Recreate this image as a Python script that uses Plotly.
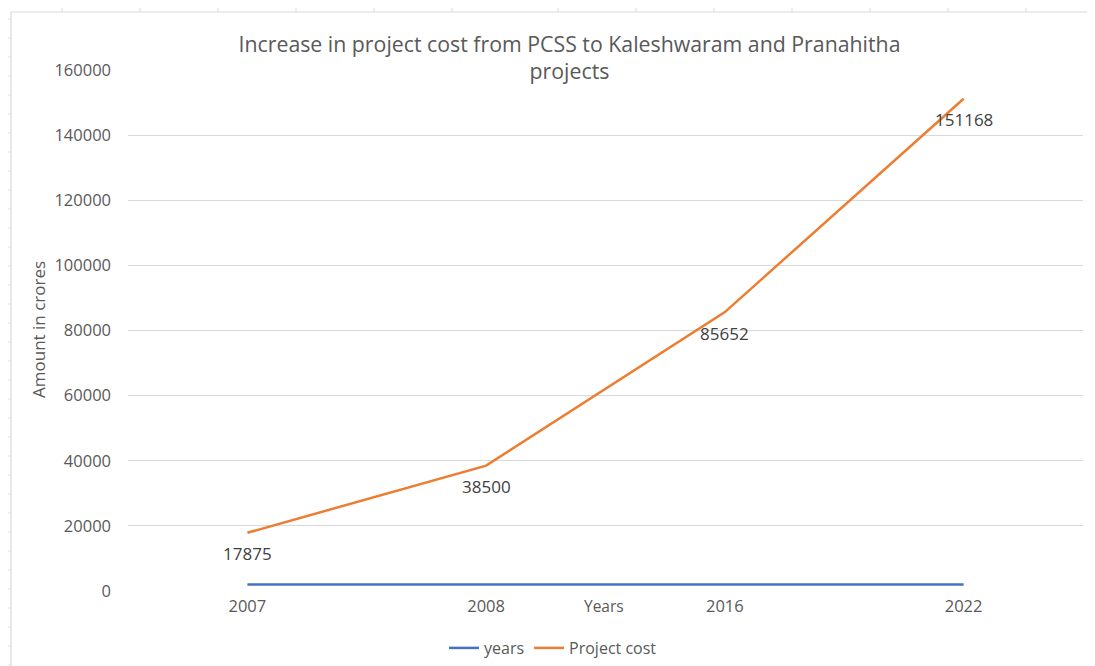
import plotly.graph_objects as go

# ── data ──────────────────────────────────────────────────────────────
years = ["2007", "2008", "2016", "2022"]
years_values = [2007, 2008, 2016, 2022]
project_cost = [17875, 38500, 85652, 151168]
y_ticks = [0, 20000, 40000, 60000, 80000, 100000, 120000, 140000, 160000]

# ── canvas geometry (page pixels; the html body adds an 8px margin) ───
OFF = 8
W, H = 1095 - OFF, 666 - OFF
L, R, T, B = 128 - OFF, 1083 - OFF, 70 - OFF, 591 - OFF


def px_x(px):
    return (px - OFF - L) / (R - L)


def px_y(py):
    return (B - (py - OFF)) / (B - T)


GREY = "#595959"
FONT = "Open Sans"

fig = go.Figure()

fig.add_trace(go.Scatter(
    x=years, y=years_values, name="years", mode="lines",
    line=dict(color="#4472C4", width=2.5),
))
fig.add_trace(go.Scatter(
    x=years, y=project_cost, name="Project cost", mode="lines",
    line=dict(color="#ED7D31", width=2.5),
))

# data labels sit a little below each point, like Excel's "Below" option
# (category index used for x: numeric-looking strings would be read as indices)
labels = [
    dict(x=i, y=v, text=str(v), xref="x", yref="y", showarrow=False,
         yshift=-21, font=dict(family=FONT, size=17, color="#404040"))
    for i, v in enumerate(project_cost)
]

# spreadsheet cell lines peeking out around the chart object
shapes = []
for cx in [62, 140, 218, 296, 374, 452, 558, 636, 714, 792, 870, 948, 1026]:
    shapes.append(dict(type="line", xref="paper", yref="paper",
                       x0=px_x(cx), x1=px_x(cx), y0=px_y(OFF), y1=px_y(12),
                       line=dict(color="#d9d9d9", width=1)))
for ry in range(19, 666, 19):
    shapes.append(dict(type="line", xref="paper", yref="paper",
                       x0=px_x(OFF), x1=px_x(11), y0=px_y(ry), y1=px_y(ry),
                       line=dict(color="#e3e3e3", width=1)))
# chart border
shapes.append(dict(type="line", xref="paper", yref="paper",
                   x0=px_x(11), x1=px_x(1095), y0=px_y(12), y1=px_y(12),
                   line=dict(color="#d9d9d9", width=1.2)))
shapes.append(dict(type="line", xref="paper", yref="paper",
                   x0=px_x(11), x1=px_x(11), y0=px_y(12), y1=px_y(666),
                   line=dict(color="#d9d9d9", width=1.2)))

fig.update_layout(
    width=W, height=H,
    margin=dict(l=L, r=W - R, t=T, b=H - B),
    paper_bgcolor="white", plot_bgcolor="white",
    font=dict(family=FONT, color=GREY),
    showlegend=True,
    legend=dict(orientation="h", x=px_x(553), xanchor="center",
                yref="container", y=(H - (648 - OFF)) / H, yanchor="middle",
                font=dict(family=FONT, size=16, color=GREY),
                itemwidth=30),
    xaxis=dict(type="category", showgrid=False, zeroline=False,
               showline=False, ticks="", range=[-0.5, 3.5],
               ticklabelstandoff=3,
               tickfont=dict(family=FONT, size=16.5, color=GREY)),
    yaxis=dict(range=[0, 160000], tickvals=y_ticks,
               tickformat="d", showgrid=True, gridcolor="#d9d9d9",
               gridwidth=1, zeroline=False, showline=False, ticks="",
               ticklabelstandoff=16,
               tickfont=dict(family=FONT, size=16.5, color=GREY)),
    shapes=shapes,
    annotations=[
        dict(text="Increase in project cost from PCSS to Kaleshwaram and Pranahitha<br>projects",
             xref="paper", yref="paper", x=px_x(569), y=px_y(57),
             xanchor="center", yanchor="middle", showarrow=False,
             width=789, height=66, bgcolor="white",
             font=dict(family=FONT, size=21.3, color=GREY)),
        dict(text="Amount in crores", xref="paper", yref="paper",
             x=px_x(38), y=px_y(330), textangle=-90, showarrow=False,
             xanchor="center", yanchor="middle",
             font=dict(family=FONT, size=17, color=GREY)),
        dict(text="Years", xref="paper", yref="paper",
             x=px_x(604), y=px_y(606), showarrow=False,
             xanchor="center", yanchor="middle",
             font=dict(family=FONT, size=15.5, color=GREY)),
    ] + labels,
)

fig.write_html("out.html")
